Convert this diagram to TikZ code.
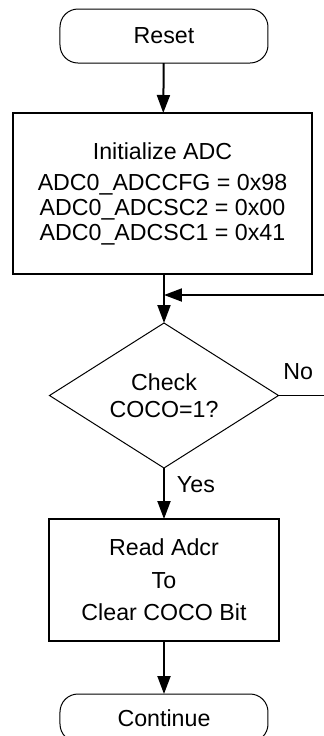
\documentclass[tikz,border=0pt]{standalone}
\usepackage{fontspec}
\setmainfont{Liberation Sans}
\usetikzlibrary{arrows.meta,calc,positioning,shapes.geometric}

\begin{document}
\begin{tikzpicture}
    [font=\fontsize{11.6pt}{12.5pt}\selectfont,
    every node/.style={outer sep=0pt},
    terminal/.style={draw,line width=0.5pt,rounded corners=9pt,minimum width=104pt,minimum height=27pt},
    process/.style={draw,line width=1pt,align=center},
    decision/.style={draw,line width=0.5pt,diamond,aspect=1.58,inner sep=0pt,
      minimum width=114.5pt,minimum height=72.5pt,align=center,
      font=\fontsize{11.6pt}{13.5pt}\selectfont},
    flow/.style={line width=1pt,-{Triangle[length=9pt,width=6.5pt]}},
    label/.style={inner sep=0pt}]

    \useasboundingbox (-82pt,18pt) rectangle (80pt,-350pt);

    \node[terminal] (reset) at (0,0) {Reset};
    \node[process,minimum width=149.5pt,minimum height=80.5pt] (init) [below=25pt of reset,xshift=-0.75pt]
    {Initialize ADC\\[3pt] ADC0\_ADCCFG = 0x98\\ ADC0\_ADCSC2 = 0x00\\ ADC0\_ADCSC1 = 0x41};
    \node[decision] (check) [below=24.5pt of init.south-|reset.south] {Check\\ COCO=1?};
    \node[process,minimum width=115pt,minimum height=61pt,
      font=\fontsize{11.6pt}{16.25pt}\selectfont] (read) [below=25.5pt of check]
    {Read Adcr\\ To\\ Clear COCO Bit};
    \node[terminal,minimum height=24pt] (cont) [below=26.5pt of read] {Continue};

    \node[label,anchor=south west] (no) at ([xshift=2.5pt,yshift=8pt]check.east) {No};
    \node[label,anchor=west] (yes) at ([xshift=6.5pt,yshift=-8.5pt]check.south) {Yes};

    \coordinate (merge) at ($(check.north)+(0,14pt)$);
    \coordinate (loopin) at ($(merge)+(81pt,0)$);
    \coordinate (noexit) at ($(check.east)+(24pt,0)$);

    \draw[flow] (reset) -- (init);
    \draw[flow] (init.south-|check.north) -- (check);
    \draw[flow] (loopin) -- (merge);
    \draw[line width=0.5pt] (check.east) -- (noexit);
    \draw[flow] (check) -- (read);
    \draw[flow] (read) -- (cont);
  \end{tikzpicture}
\end{document}
